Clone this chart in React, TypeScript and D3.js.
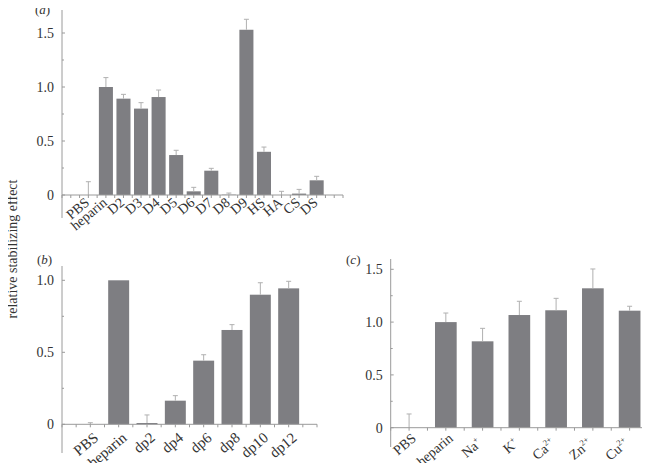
import React from 'react';
import * as d3 from 'd3';

// panel (a): heparin-derived oligosaccharides and other GAGs
const catsA = ['PBS', 'heparin', 'D2', 'D3', 'D4', 'D5', 'D6', 'D7', 'D8', 'D9', 'HS', 'HA', 'CS', 'DS'];
const valsA = [0, 1.0, 0.892, 0.80, 0.907, 0.37, 0.034, 0.225, 0.003, 1.53, 0.40, 0, 0.013, 0.136];
const errA = [0.123, 0.087, 0.04, 0.055, 0.065, 0.044, 0.037, 0.022, 0.015, 0.097, 0.044, 0.034, 0.039, 0.037];

// panel (b): degree of polymerisation
const catsB = ['PBS', 'heparin', 'dp2', 'dp4', 'dp6', 'dp8', 'dp10', 'dp12'];
const valsB = [0, 1.0, 0.009, 0.164, 0.442, 0.655, 0.90, 0.944];
const errB = [0.011, 0, 0.056, 0.035, 0.041, 0.037, 0.083, 0.049];

// panel (c): metal ions (text after | is a superscript)
const catsC = ['PBS', 'heparin', 'Na|+', 'K|+', 'Ca|2+', 'Zn|2+', 'Cu|2+'];
const valsC = [0, 1.0, 0.818, 1.067, 1.112, 1.32, 1.108];
const errC = [0.13, 0.086, 0.123, 0.13, 0.113, 0.183, 0.042];

const yTicksA = [0, 0.5, 1.0, 1.5];
const yTicksB = [0, 0.5, 1.0];
const yTicksC = [0, 0.5, 1.0, 1.5];

const BAR = '#7e7e82';
const AXIS = '#9a9a9a';
const ERR = '#b0b0b0';
const TXT = '#333';
const FONT = '"Liberation Serif", "Times New Roman", serif';
const ANGLE = -40;

type PanelProps = {
  label: string;
  cats: string[];
  vals: number[];
  errs: number[];
  yTicks: number[];
  x0: number; x1: number; pad: number;
  zeroY: number; topVal: number; topY: number;
  axisTop: number; axisBottom: number;
  barFrac: number;
  labelPos: [number, number];
  catFont: number;
  catDx: number; catDy: number;
};

function Panel(p: PanelProps) {
  const x = d3.scalePoint<string>().domain(p.cats).range([p.x0, p.x1]).padding(p.pad);
  const y = d3.scaleLinear().domain([0, p.topVal]).range([p.zeroY, p.topY]);
  const step = x.step();
  const bw = step * p.barFrac;
  const fmt = (v: number) => (v === 0 ? '0' : d3.format('.1f')(v));
  const minor = d3.range(0.25, y.invert(p.axisTop), 0.5);
  const xTicks = d3.range(p.x0, p.x1 + 0.5, step / 2);

  return (
    <g>
      <text x={p.labelPos[0]} y={p.labelPos[1]} fontSize={13} fill={TXT}>
        (<tspan fontStyle="italic">{p.label}</tspan>)
      </text>
      {/* y axis */}
      <line x1={p.x0} x2={p.x0} y1={p.axisTop} y2={p.axisBottom} stroke={AXIS} strokeWidth={1} />
      {p.yTicks.map(t => (
        <g key={t}>
          <line x1={p.x0} x2={p.x0 + 3} y1={y(t)} y2={y(t)} stroke={AXIS} />
          <text x={p.x0 - 8} y={y(t)} dy="0.35em" textAnchor="end" fontSize={14} fill={TXT}>{fmt(t)}</text>
        </g>
      ))}
      {minor.map(t => (
        <line key={t} x1={p.x0} x2={p.x0 + 2} y1={y(t)} y2={y(t)} stroke={AXIS} />
      ))}
      {/* bars */}
      {p.cats.map((c, i) => {
        const cx = x(c)!;
        return (
          <g key={c}>
            {p.vals[i] > 0 && (
              <rect x={cx - bw / 2} y={y(p.vals[i])} width={bw} height={p.zeroY - y(p.vals[i])} fill={BAR} />
            )}
            {p.errs[i] > 0 && (
              <g stroke={ERR} strokeWidth={1}>
                <line x1={cx} x2={cx} y1={y(p.vals[i])} y2={y(p.vals[i] + p.errs[i])} />
                <line x1={cx - 2.5} x2={cx + 2.5} y1={y(p.vals[i] + p.errs[i])} y2={y(p.vals[i] + p.errs[i])} />
              </g>
            )}
          </g>
        );
      })}
      {/* x axis */}
      <line x1={p.x0} x2={p.x1} y1={p.zeroY} y2={p.zeroY} stroke={AXIS} />
      {xTicks.map((t, i) => (
        <line key={i} x1={t} x2={t} y1={p.zeroY} y2={p.zeroY + 3} stroke={AXIS} />
      ))}
      {p.cats.map(c => {
        const [base, sup] = c.split('|');
        const ax = x(c)! + p.catDx - (sup ? 8 : 0);
        const ay = p.zeroY + p.catDy + (sup ? 5 : 0);
        return (
          <text key={c} x={ax} y={ay} textAnchor="end" fontSize={p.catFont} fill={TXT}
            transform={`rotate(${ANGLE},${ax},${ay})`}>
            {base}
            {sup && <tspan fontSize={p.catFont * 0.6} dy={-p.catFont * 0.4}>{sup}</tspan>}
          </text>
        );
      })}
    </g>
  );
}

export default function App() {
  return (
    <svg width={650} height={471} style={{ display: 'block', margin: '-8px' }} fontFamily={FONT}>
      <rect width={650} height={471} fill="#fff" />
      <text transform="translate(17,249) rotate(-90)" textAnchor="middle" fontSize={14} fill={TXT}>
        relative stabilizing effect
      </text>
      <Panel label="a" cats={catsA} vals={valsA} errs={errA} yTicks={yTicksA}
        x0={62} x1={343} pad={1.5} zeroY={195} topVal={1.5} topY={33}
        axisTop={10} axisBottom={218} barFrac={0.8} labelPos={[35, 14]}
        catFont={14} catDx={2} catDy={9} />
      <Panel label="b" cats={catsB} vals={valsB} errs={errB} yTicks={yTicksB}
        x0={62} x1={317} pad={1} zeroY={424.3} topVal={1} topY={280.3}
        axisTop={266} axisBottom={453} barFrac={0.74} labelPos={[37, 264]}
        catFont={15} catDx={9} catDy={15} />
      <Panel label="c" cats={catsC} vals={valsC} errs={errC} yTicks={yTicksC}
        x0={390.7} x1={648} pad={0.5} zeroY={427.7} topVal={1.5} topY={269.3}
        axisTop={259} axisBottom={447} barFrac={0.59} labelPos={[346, 264]}
        catFont={14} catDx={8} catDy={12} />
    </svg>
  );
}
